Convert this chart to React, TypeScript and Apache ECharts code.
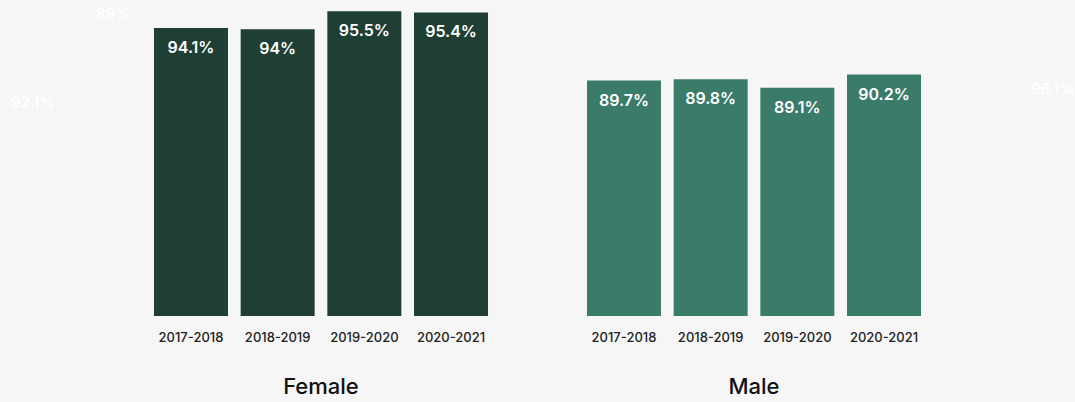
import React, { useEffect, useRef } from "react";
import * as echarts from "echarts";

const categories = ["2017-2018", "2018-2019", "2019-2020", "2020-2021"];
const femaleValues = [94.1, 94, 95.5, 95.4];
const maleValues = [89.7, 89.8, 89.1, 90.2];
const groupNames = ["Female", "Male"];
const ghostLabels = ["89%", "92.1%", "96.1%"];

const FONT = "Inter, 'Noto Sans', sans-serif";

export default function App() {
  const ref = useRef<HTMLDivElement>(null);
  useEffect(() => {
    if (!ref.current) return;
    const chart = echarts.init(ref.current, null, { renderer: "svg" });
    const yMin = 70;
    const yMax = 96.44;
    const mkX = (idx: number, name: string) => ({
      type: "category",
      gridIndex: idx,
      data: categories,
      axisLine: { show: false },
      axisTick: { show: false },
      axisLabel: { interval: 0, color: "#222", fontSize: 13, fontWeight: 500, fontFamily: FONT, margin: 14 },
      name,
      nameLocation: "middle",
      nameGap: 59,
      nameTextStyle: { color: "#111", fontSize: 22, fontWeight: 500, fontFamily: FONT },
    });
    const mkY = (idx: number) => ({
      type: "value",
      gridIndex: idx,
      min: yMin,
      max: yMax,
      show: false,
      splitLine: { show: false },
    });
    const label = {
      show: true,
      position: "insideTop",
      distance: 11,
      color: "#fff",
      fontSize: 16,
      fontWeight: 600,
      fontFamily: FONT,
      formatter: (p: any) => p.value + "%",
    };
    chart.setOption({
      animation: false,
      backgroundColor: "#f6f6f6",
      grid: [
        { left: 147.65, width: 346.7, top: 0, height: 321 },
        { left: 580.65, width: 346.7, top: 0, height: 321 },
      ],
      xAxis: [mkX(0, groupNames[0]), mkX(1, groupNames[1])],
      yAxis: [mkY(0), mkY(1)],
      series: [
        {
          type: "bar",
          xAxisIndex: 0,
          yAxisIndex: 0,
          data: femaleValues,
          barWidth: 74,
          itemStyle: { color: "#1f3e34" },
          label,
        },
        {
          type: "bar",
          xAxisIndex: 1,
          yAxisIndex: 1,
          data: maleValues,
          barWidth: 74,
          itemStyle: { color: "#3a7b6a" },
          label,
        },
      ],
      graphic: [
        { type: "text", left: 96, top: 6, style: { text: ghostLabels[0], fill: "#ffffff", fontSize: 15, fontWeight: 600, fontFamily: FONT } },
        { type: "text", left: 11, top: 95, style: { text: ghostLabels[1], fill: "#ffffff", fontSize: 15, fontWeight: 600, fontFamily: FONT } },
        { type: "text", left: 1031, top: 81, style: { text: ghostLabels[2], fill: "#ffffff", fontSize: 15, fontWeight: 600, fontFamily: FONT } },
      ],
    });
    return () => chart.dispose();
  }, []);
  return (
    <div
      ref={ref}
      style={{ position: "fixed", left: 0, top: 0, width: 1075, height: 402 }}
    />
  );
}
